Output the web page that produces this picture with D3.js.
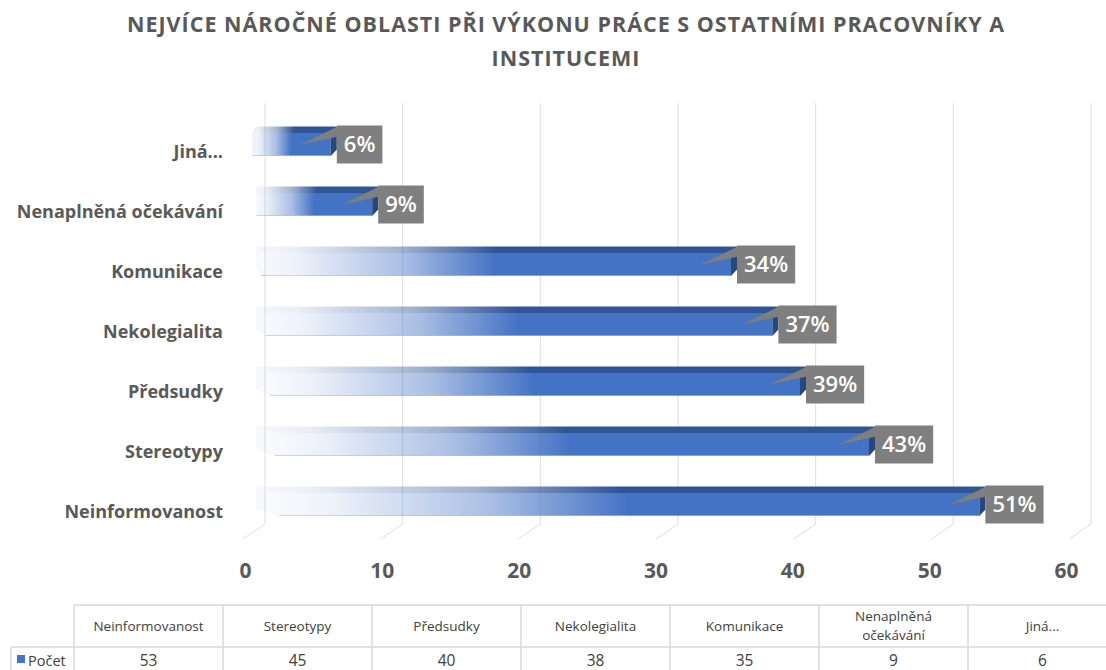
<!DOCTYPE html>
<html>
<head>
<meta charset="utf-8">
<script src="https://cdn.jsdelivr.net/npm/d3@7"></script>
<style>
  html, body { margin: 0; padding: 0; background: #fff; }
  svg { display: block; font-family: "Open Sans", sans-serif; }
</style>
</head>
<body>
<div id="chart"></div>
<script>
// data
const categories = ['Neinformovanost', 'Stereotypy', 'Předsudky', 'Nekolegialita', 'Komunikace', 'Nenaplněná očekávání', 'Jiná...'];
const counts = [53, 45, 40, 38, 35, 9, 6];
const percents = [51, 43, 39, 37, 34, 9, 6];
const tickValues = [0, 10, 20, 30, 40, 50, 60];
const seriesName = 'Počet';
const titleLines = ['NEJVÍCE NÁROČNÉ OBLASTI PŘI VÝKONU PRÁCE S OSTATNÍMI PRACOVNÍKY A', 'INSTITUCEMI'];

const width = 1106, height = 670;
const depth = { dx: 6, dy: -6.5 };
const barH = 23;
const blue = '#4472C4', blueTop = '#2F5597', blueSide = '#27477f';
const gray = '#595959', grid = '#dedede';

const rows = categories.map((c, i) => ({ cat: c, value: counts[i], pct: percents[i] }));

const svg = d3.select('#chart').append('svg')
  .attr('width', width)
  .attr('height', height);

// scales
const xFront = d3.scaleLinear().domain([0, 60]).range([248, 1076]);
const xBack = d3.scaleLinear().domain([0, 60]).range([265, 1091]);
const xTick = d3.scaleLinear().domain([0, 60]).range([245, 1066]);
const y = d3.scaleBand().domain(categories.slice().reverse()).range([114.5, 534.5]);
const floorY = 524;

// gradients
const defs = svg.append('defs');
function fade(id, color) {
  const g = defs.append('linearGradient').attr('id', id)
    .attr('x1', 0).attr('x2', 1).attr('y1', 0).attr('y2', 0);
  [[0, 0.04], [0.08, 0.1], [0.3, 0.45], [0.5, 1], [1, 1]].forEach(([o, a]) => {
    g.append('stop').attr('offset', o).attr('stop-color', color).attr('stop-opacity', a);
  });
}
fade('fadeFront', blue);
fade('fadeTop', blueTop);

// title
svg.append('text')
  .attr('x', 566)
  .attr('text-anchor', 'middle')
  .attr('fill', gray)
  .attr('font-size', 21.5)
  .attr('font-weight', 700)
  .attr('letter-spacing', 1)
  .selectAll('tspan')
  .data(titleLines)
  .join('tspan')
  .attr('x', 566)
  .attr('y', (d, i) => 32 + i * 34)
  .text(d => d);

// back wall gridlines + floor
const gridG = svg.append('g').attr('class', 'grid');
gridG.selectAll('line.v')
  .data(tickValues)
  .join('line')
  .attr('class', 'v')
  .attr('x1', d => xBack(d)).attr('x2', d => xBack(d))
  .attr('y1', 103).attr('y2', floorY)
  .attr('stroke', grid).attr('stroke-width', 1);
gridG.selectAll('line.f')
  .data(tickValues)
  .join('line')
  .attr('class', 'f')
  .attr('x1', d => xBack(d)).attr('x2', d => xBack(d) - 22)
  .attr('y1', floorY).attr('y2', floorY + 15)
  .attr('stroke', grid).attr('stroke-width', 1);

// bars
const bars = svg.append('g').attr('class', 'bars')
  .selectAll('g')
  .data(rows)
  .join('g');

bars.each(function (d) {
  const g = d3.select(this);
  const i = y.domain().indexOf(d.cat);
  const yc = y(d.cat) + y.bandwidth() / 2;
  const top = yc - barH / 2, bot = yc + barH / 2;
  const xe = xFront(d.value);
  const fl = xFront(0) + 4 + i * 4.5;   // front-left corner shifts with perspective
  const bl = xFront(0) + 8;             // back-left corner

  // left cap
  g.append('polygon')
    .attr('points', [[bl, top + depth.dy], [fl, top], [fl, bot], [bl, bot + depth.dy]].join(' '))
    .attr('fill', blue).attr('fill-opacity', 0.04);
  // top face
  g.append('polygon')
    .attr('points', [[fl, top], [xe, top], [xe + depth.dx, top + depth.dy], [bl, top + depth.dy]].join(' '))
    .attr('fill', 'url(#fadeTop)');
  // front face
  g.append('rect')
    .attr('x', fl).attr('y', top)
    .attr('width', xe - fl).attr('height', barH)
    .attr('fill', 'url(#fadeFront)');
  g.append('line')
    .attr('x1', fl).attr('x2', xe).attr('y1', bot - 0.5).attr('y2', bot - 0.5)
    .attr('stroke', '#a9bfe6').attr('stroke-opacity', 0.6);
  // right end
  g.append('polygon')
    .attr('points', [[xe, top], [xe + depth.dx, top + depth.dy], [xe + depth.dx, bot + depth.dy], [xe, bot]].join(' '))
    .attr('fill', blueSide);

  // data label callout
  const label = d.pct + '%';
  const bx = xe + depth.dx;
  const t = g.append('text')
    .attr('y', yc)
    .attr('dy', '0.36em')
    .attr('fill', '#fff')
    .attr('font-size', 22)
    .attr('font-weight', 600)
    .text(label);
  const tw = t.node().getComputedTextLength();
  const bw = tw + 14, bh = 38;
  g.insert('polygon', 'text')
    .attr('points', [[bx + 1, yc - bh / 2 + 1], [xe - 30, yc], [bx + 1, yc - bh / 2 + 11]].join(' '))
    .attr('fill', '#7f7f7f');
  g.insert('rect', 'text')
    .attr('x', bx).attr('y', yc - bh / 2)
    .attr('width', bw).attr('height', bh)
    .attr('fill', '#7f7f7f');
  t.attr('x', bx + 7);
});

// category labels
svg.append('g').attr('class', 'cats')
  .selectAll('text')
  .data(rows)
  .join('text')
  .attr('x', 223)
  .attr('y', d => y(d.cat) + y.bandwidth() / 2 + 13)
  .attr('text-anchor', 'end')
  .attr('fill', gray)
  .attr('font-size', 18)
  .attr('font-weight', 700)
  .text(d => d.cat);

// value axis
const axis = svg.append('g')
  .attr('transform', 'translate(0,578)')
  .call(d3.axisBottom(xTick).tickValues(tickValues).tickSize(0).tickPadding(0));
axis.select('.domain').remove();
axis.selectAll('text')
  .attr('dy', 0)
  .attr('fill', gray)
  .attr('font-size', 21)
  .attr('font-weight', 700)
  .attr('font-family', '"Open Sans", sans-serif');

// data table
const colX = d3.scaleBand().domain(categories).range([74, 74 + 149 * categories.length]);
const tTop = 605, tMid = 647, tBot = 690;
const tableG = svg.append('g').attr('class', 'table')
  .attr('stroke', '#d9d9d9').attr('stroke-width', 1.5);
tableG.append('line').attr('x1', colX.range()[0]).attr('x2', width).attr('y1', tTop).attr('y2', tTop);
tableG.append('line').attr('x1', 11).attr('x2', width).attr('y1', tMid).attr('y2', tMid);
tableG.append('line').attr('x1', 11).attr('x2', 11).attr('y1', tMid).attr('y2', tBot);
tableG.selectAll('line.col')
  .data(categories)
  .join('line')
  .attr('class', 'col')
  .attr('x1', d => colX(d)).attr('x2', d => colX(d))
  .attr('y1', tTop).attr('y2', tBot);

const headG = svg.append('g').attr('font-size', 13.5).attr('fill', '#404040').attr('text-anchor', 'middle');
headG.selectAll('text')
  .data(categories)
  .join('text')
  .attr('x', d => colX(d) + colX.bandwidth() / 2)
  .each(function (d) {
    const words = d.length > 16 ? d.split(' ') : [d];
    const t = d3.select(this);
    const y0 = (tTop + tMid) / 2 - (words.length - 1) * 9.5;
    words.forEach((w, k) => {
      t.append('tspan')
        .attr('x', colX(d) + colX.bandwidth() / 2)
        .attr('y', y0 + k * 19)
        .attr('dy', '0.35em')
        .text(w);
    });
  });

headG.selectAll('text.val')
  .data(rows)
  .join('text')
  .attr('class', 'val')
  .attr('x', d => colX(d.cat) + colX.bandwidth() / 2)
  .attr('y', 661)
  .attr('dy', '0.35em')
  .attr('font-size', 15.5)
  .text(d => d.value);

svg.append('rect')
  .attr('x', 17).attr('y', 655)
  .attr('width', 8).attr('height', 8)
  .attr('fill', blue);
svg.append('text')
  .attr('x', 28).attr('y', 661)
  .attr('dy', '0.35em')
  .attr('font-size', 14.5)
  .attr('fill', '#404040')
  .text(seriesName);
</script>
</body>
</html>
